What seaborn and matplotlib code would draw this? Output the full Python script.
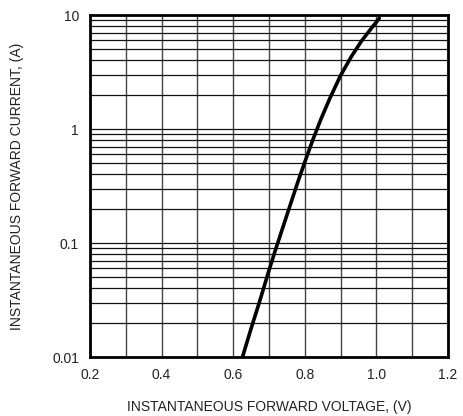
import matplotlib
matplotlib.use("Agg")
import matplotlib.pyplot as plt
import matplotlib.ticker as mticker
import numpy as np
import seaborn as sns

# curve (volts, amps)
voltage = [0.626, 0.650, 0.675, 0.698, 0.719, 0.740, 0.760, 0.780, 0.800,
           0.823, 0.845, 0.870, 0.900, 0.930, 0.958, 0.985, 1.008]
current = [0.01, 0.0178, 0.0316, 0.055, 0.089, 0.141, 0.219, 0.339, 0.513,
           0.813, 1.22, 1.86, 2.95, 4.32, 5.89, 7.59, 9.35]

x_ticks = [0.2, 0.4, 0.6, 0.8, 1.0, 1.2]
y_ticks = [0.01, 0.1, 1, 10]
y_tick_labels = ["0.01", "0.1", "1", "10"]


def main():
    sns.set_style("white")
    plt.rcParams['font.family'] = ['Liberation Sans', 'DejaVu Sans']

    fig = plt.figure(figsize=(4.63, 4.16), dpi=100)
    ax = fig.add_axes([0.1944, 0.1418, 0.7732, 0.8221])

    sns.lineplot(x=voltage, y=current, ax=ax, color='black', linewidth=2.6,
                 sort=False, estimator=None)

    ax.set_yscale('log')
    ax.set_xlim(0.2, 1.2)
    ax.set_ylim(0.01, 10)

    ax.set_xticks(x_ticks)
    ax.set_xticklabels([f"{v:.1f}" for v in x_ticks])
    ax.xaxis.set_minor_locator(mticker.MultipleLocator(0.1))
    ax.set_yticks(y_ticks)
    ax.set_yticklabels(y_tick_labels)
    ax.yaxis.set_minor_locator(mticker.LogLocator(base=10, subs=np.arange(2, 10)))
    ax.yaxis.set_minor_formatter(mticker.NullFormatter())

    ax.grid(True, which='both', axis='x', color='#444444', linewidth=1.0)
    ax.grid(True, which='both', axis='y', color='#111111', linewidth=0.9)
    ax.tick_params(which='both', length=0, labelsize=10, colors='#222222', pad=8)

    for s in ax.spines.values():
        s.set_color('black')
        s.set_linewidth(2.0)
        s.set_zorder(5)

    ax.set_xlabel("INSTANTANEOUS FORWARD VOLTAGE, (V)", fontsize=10,
                  color='#222222', labelpad=13)
    ax.set_ylabel("INSTANTANEOUS FORWARD CURRENT, (A)", fontsize=10,
                  color='#222222', labelpad=20)

    fig.savefig("out.png", dpi=100)


if __name__ == '__main__':
    main()
